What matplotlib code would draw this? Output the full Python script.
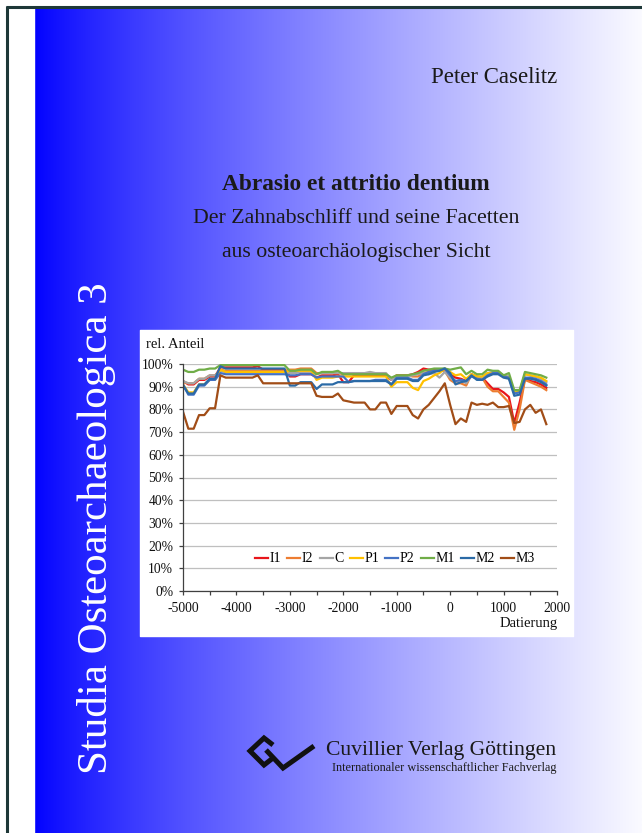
import numpy as np
import matplotlib
matplotlib.use("Agg")
import matplotlib.pyplot as plt
from matplotlib.ticker import MultipleLocator, FuncFormatter

plt.rcParams['font.family'] = ['Liberation Serif', 'DejaVu Serif']
plt.rcParams['axes.unicode_minus'] = False

# years of the data points (Datierung)
years = [-5000, -4900, -4800, -4700, -4600, -4500, -4400, -4300, -4200, -4100,
         -4000, -3900, -3800, -3700, -3600, -3500, -3400, -3300, -3200, -3100,
         -3000, -2900, -2800, -2700, -2600, -2500, -2400, -2300, -2200, -2100,
         -2000, -1900, -1800, -1700, -1600, -1500, -1400, -1300, -1200, -1100,
         -1000, -900, -800, -700, -600, -500, -400, -300, -200, -100,
         0, 100, 200, 300, 400, 500, 600, 700, 800, 900,
         1000, 1100, 1200, 1300, 1400, 1500, 1600, 1700, 1800]

# rel. Anteil in percent, one list per tooth
I1 = [92.5, 91, 91, 93, 93, 94.5, 94.5, 98.5, 98.5, 98.5,
      98.5, 98.5, 98.5, 98.5, 99, 97.5, 97.5, 97.5, 97.5, 97.5,
      94.5, 94.5, 95.5, 95.5, 95.5, 94, 95, 95, 95, 95.5,
      92, 92, 95, 95, 95, 95, 95, 95, 95, 93,
      95, 95, 95, 95.5, 96.5, 98, 97.5, 97.5, 97.5, 97.5,
      95.5, 94, 93.5, 92.5, 95.5, 94, 94, 91.5, 89, 89,
      87.5, 85.5, 74, 83, 93.5, 92.5, 92, 91, 89.5]
I2 = [92, 91.5, 91.5, 93.5, 93.5, 95, 95, 97.5, 97, 97,
      97, 97, 97, 97, 97, 97, 97, 97, 97, 97,
      97.5, 97.5, 98, 98, 98, 96, 96, 96, 96, 96,
      95.5, 95.5, 95.5, 95.5, 95.5, 95.5, 95.5, 95.5, 95.5, 93.5,
      95, 95, 95, 94.5, 94.5, 96, 96.5, 97, 97, 97,
      93, 91.5, 91.5, 90.5, 95.5, 94.5, 94, 90, 88, 88,
      85.5, 83, 71, 80, 93, 92, 91, 90, 88.5]
C = [92.5, 91.5, 91.5, 93.5, 93.5, 95, 95, 97, 96.5, 96.5,
     96.5, 96.5, 96.5, 96.5, 96.5, 96.5, 96.5, 96.5, 96.5, 96.5,
     96, 96, 96.5, 96.5, 96.5, 95.5, 96, 96, 96, 96,
     96, 96, 96, 96, 96, 96.5, 96, 96, 96, 93,
     94.5, 94.5, 94.5, 95, 95.5, 96, 95.5, 96, 94, 96.5,
     94, 92, 93, 91.5, 95, 94.5, 94, 96, 96.5, 96.5,
     95, 94.5, 87.5, 88, 95.5, 95, 94.5, 93.5, 92]
P1 = [91, 87.5, 87.5, 91, 91, 93, 93, 97.5, 96.5, 96.5,
      96.5, 96.5, 96.5, 96.5, 96.5, 96.5, 96.5, 96.5, 96.5, 96.5,
      97, 97, 97, 97, 97, 93, 94, 94, 94, 94.5,
      94.5, 94.5, 94.5, 94.5, 94.5, 94.5, 94.5, 94.5, 94.5, 90,
      92, 92, 92, 89.5, 88.5, 92.5, 93.5, 95, 96, 98,
      96.5, 95, 95.5, 93.5, 95.5, 94.5, 94.5, 96, 96, 96,
      94.5, 94, 87.5, 88, 95.5, 95, 94.5, 94, 92.5]
P2 = [91, 86.5, 86.5, 90.5, 90.5, 93, 93, 96, 95.5, 95.5,
      95.5, 95.5, 95.5, 95.5, 95.5, 95.5, 95.5, 95.5, 95.5, 95.5,
      95, 95, 95.5, 95.5, 95.5, 94, 94.5, 94.5, 94.5, 94.5,
      94.5, 92, 92.5, 92.5, 92.5, 92.5, 93, 93, 93, 91,
      94, 94, 94, 93, 93, 95.5, 96.5, 97, 97.5, 98,
      95, 92.5, 93, 92.5, 94.5, 93.5, 93, 95, 96, 96,
      94.5, 94, 87, 87.5, 94, 94, 93.5, 92.5, 91]
M1 = [97.5, 96.5, 96.5, 97.5, 97.5, 98, 98, 99.5, 99.5, 99.5,
      99.5, 99.5, 99.5, 99.5, 99.5, 99.5, 99.5, 99.5, 99.5, 99.5,
      97, 97, 97.5, 97.5, 97.5, 95.5, 96.5, 96.5, 96.5, 97,
      95.5, 95.5, 95.5, 95.5, 95.5, 95.5, 95.5, 95.5, 95.5, 94,
      95, 95, 95, 95.5, 96, 97, 97.5, 98, 98, 98,
      97.5, 98, 98.5, 95.5, 97, 95.5, 95.5, 97.5, 97, 97,
      95, 96, 88.5, 88.5, 96.5, 96, 95.5, 95, 94]
M2 = [90.5, 87, 87, 91, 91, 93.5, 93.5, 99, 98, 98,
      98, 98, 98, 98, 98, 98, 98, 98, 98, 98,
      90.5, 90.5, 92, 92, 92, 89, 91, 91, 91, 92,
      92, 92, 92.5, 92.5, 92.5, 92.5, 92.5, 92.5, 92.5, 91,
      93.5, 93.5, 93.5, 92.5, 92.5, 95, 95.5, 96.5, 97, 98,
      96, 91, 92, 92.5, 95, 93, 93, 94.5, 95.5, 95.5,
      94, 93.5, 86, 86.5, 93.5, 93.5, 93, 92, 90.5]
M3 = [79, 71.5, 71.5, 77.5, 77.5, 80.5, 80.5, 95, 94, 94,
      94, 94, 94, 94, 95, 91.5, 91.5, 91.5, 91.5, 91.5,
      91.5, 91.5, 91.5, 91.5, 91.5, 86, 85.5, 85.5, 85.5, 87,
      84, 83.5, 83, 83, 83, 80, 80, 83, 83, 78,
      81.5, 81.5, 81.5, 77.5, 76, 80, 82, 85, 88, 91.5,
      82, 73.5, 76, 74.5, 83, 82, 82.5, 82, 83, 81,
      81, 81.5, 74, 74.5, 80, 82, 78.5, 80, 73.5]

names = ["I1", "I2", "C", "P1", "P2", "M1", "M2", "M3"]
series = [I1, I2, C, P1, P2, M1, M2, M3]
colors = ["#e8161b", "#ed7d31", "#a5a5a5", "#ffc000", "#4472c4", "#70ad47", "#2b6aa6", "#a14d17"]

W, H = 642, 833
fig = plt.figure(figsize=(W / 100, H / 100), dpi=100)

# background layer in pixel coordinates
bg = fig.add_axes([0, 0, 1, 1])
bg.set_xlim(0, W)
bg.set_ylim(H, 0)
bg.axis("off")

# blue to white gradient
xs = np.linspace(0, 1, 600)
white = 250 * xs ** 0.8
grad = np.zeros((2, 600, 3))
grad[:, :, 0] = white / 255
grad[:, :, 1] = white / 255
grad[:, :, 2] = 1.0
bg.imshow(grad, extent=[34, W, H, 7], aspect="auto", interpolation="bilinear")
bg.fill_between([8, 34], 7, H, color="white")
bg.plot([7, 7], [6, H], color="#1e3838", lw=2.2, solid_capstyle="butt")
bg.plot([6, W], [6.5, 6.5], color="#1e3838", lw=2.2, solid_capstyle="butt")

# white panel for the chart
bg.fill_between([140, 573], 330, 636, color="white")

bg.text(494, 77, "Peter Caselitz", fontsize=16.5, ha="center", va="center", color="#1a1a1a")
bg.text(356, 184, "Abrasio et attritio dentium", fontsize=16.8, fontweight="bold",
        ha="center", va="center", color="#1a1a1a")
bg.text(356, 218, "Der Zahnabschliff und seine Facetten", fontsize=15.7,
        ha="center", va="center", color="#1a1a1a")
bg.text(356, 252, "aus osteoarchäologischer Sicht", fontsize=15.7,
        ha="center", va="center", color="#1a1a1a")
bg.text(97, 528, "Studia Osteoarchaeologica 3", fontsize=31, rotation=90,
        ha="center", va="center", color="white")

# publisher logo (two linked shapes)
bg.plot([273, 264, 250, 264, 273], [745, 738, 751, 765, 758], color="#111111", lw=3.6,
        solid_joinstyle="miter", solid_capstyle="butt")
bg.plot([266, 283, 314], [750, 768, 746], color="#111111", lw=3.6,
        solid_joinstyle="miter", solid_capstyle="butt")
bg.text(326, 750, "Cuvillier Verlag Göttingen", fontsize=15.6, ha="left", va="center", color="#1a1a1a")
bg.text(557, 768, "Internationaler wissenschaftlicher Fachverlag", fontsize=8.8,
        ha="right", va="center", color="#1a1a1a")

# the chart
ax = fig.add_axes([183 / W, 1 - 591 / H, 374 / W, 227 / H])
ax.set_facecolor("white")
for name, vals, col in zip(names, series, colors):
    ax.plot(years, np.array(vals) / 100, color=col, lw=1.6, label=name)

ax.set_xlim(-5000, 2000)
ax.set_ylim(0, 1.0)
ax.yaxis.set_major_locator(MultipleLocator(0.1))
ax.yaxis.set_major_formatter(FuncFormatter(lambda v, p: "%d%%" % round(v * 100)))
ax.xaxis.set_major_locator(MultipleLocator(1000))
ax.xaxis.set_minor_locator(MultipleLocator(500))
ax.grid(axis="y", color="#bfbfbf", lw=0.9)
ax.set_axisbelow(True)
for s in ["top", "right"]:
    ax.spines[s].set_visible(False)
for s in ["left", "bottom"]:
    ax.spines[s].set_color("#404040")
    ax.spines[s].set_linewidth(0.9)
ax.tick_params(axis="both", labelsize=9.8, colors="#404040", labelcolor="#111111",
               length=3, width=0.9)
ax.tick_params(axis="y", pad=4)
ax.tick_params(axis="x", pad=5)
ax.tick_params(axis="x", which="minor", length=3, width=0.9, colors="#404040")

fig.text(146 / W, 1 - 345 / H, "rel. Anteil", fontsize=10.5, ha="left", va="center", color="#111111")
fig.text(558 / W, 1 - 624 / H, "Datierung", fontsize=10.5, ha="right", va="center", color="#111111")

ax.legend(loc="center", bbox_to_anchor=(395 / W, 1 - 559 / H), bbox_transform=fig.transFigure,
          ncol=8, frameon=False, fontsize=10, handlelength=0.95, handletextpad=0.1,
          columnspacing=0.45, borderpad=0)

fig.savefig("out.png", dpi=100)
